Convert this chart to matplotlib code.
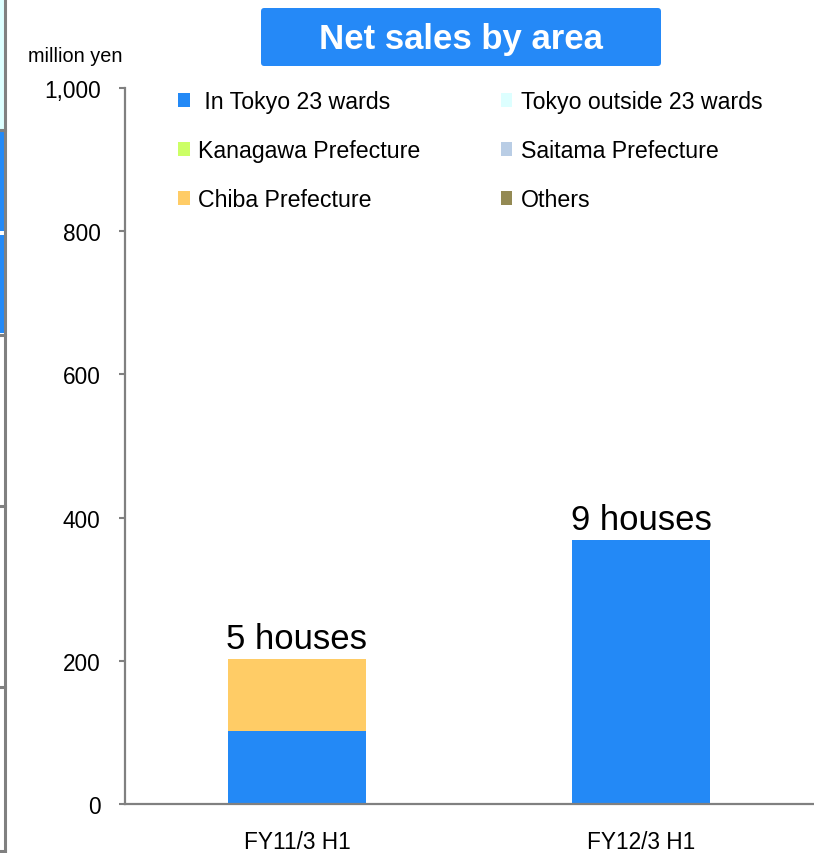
import matplotlib
matplotlib.use("Agg")
import matplotlib.pyplot as plt
from matplotlib.patches import FancyBboxPatch, Rectangle
from matplotlib.lines import Line2D

plt.rcParams['font.family'] = ['Liberation Sans', 'DejaVu Sans']

# data (million yen)
periods = ["FY11/3 H1", "FY12/3 H1"]
areas = [" In Tokyo 23 wards", "Tokyo outside 23 wards", "Kanagawa Prefecture",
         "Saitama Prefecture", "Chiba Prefecture", "Others"]
area_colors = ["#2389F6", "#DDFFFF", "#CCFF66", "#B9CDE5", "#FFCC66", "#948A54"]
sales = {
    " In Tokyo 23 wards":     [102, 369],
    "Tokyo outside 23 wards": [0, 0],
    "Kanagawa Prefecture":    [0, 0],
    "Saitama Prefecture":     [0, 0],
    "Chiba Prefecture":       [101, 0],
    "Others":                 [0, 0],
}
houses = [5, 9]

W, H = 814, 854
fig = plt.figure(figsize=(W / 100, H / 100), dpi=100)
gray = "#808080"


def fx(px):
    return px / W


def fy(py):
    return 1 - py / H


# edge of the neighbouring panel on the left
fig.patches.append(Rectangle((0, fy(131)), fx(5), fy(0) - fy(131), transform=fig.transFigure,
                             facecolor="#DDFFFF", edgecolor="none"))
fig.patches.append(Rectangle((0, fy(232)), fx(5), fy(133) - fy(232), transform=fig.transFigure,
                             facecolor="#2389F6", edgecolor="none"))
fig.patches.append(Rectangle((0, fy(334)), fx(5), fy(236) - fy(334), transform=fig.transFigure,
                             facecolor="#2389F6", edgecolor="none"))
fig.lines.append(Line2D([fx(5), fx(5)], [fy(0), fy(852)], transform=fig.transFigure,
                        color=gray, lw=2.2))
for yy in [131, 336, 507, 688, 852]:
    fig.lines.append(Line2D([0, fx(5)], [fy(yy), fy(yy)], transform=fig.transFigure,
                            color=gray, lw=2.2))

ax = fig.add_axes([fx(125), fy(805), fx(813) - fx(125), fy(89) - fy(805)])

x = range(len(periods))
bottom = [0] * len(periods)
handles = []
for name, color in zip(areas, area_colors):
    vals = sales[name]
    bars = ax.bar(x, vals, width=0.4, bottom=bottom, color=color, edgecolor="none",
                  label=name)
    handles.append(bars)
    bottom = [b + v for b, v in zip(bottom, vals)]

for i, (tot, n) in enumerate(zip(bottom, houses)):
    ax.annotate(f"{n} houses", (i, tot), xytext=(0, 8), textcoords="offset points",
                ha="center", va="baseline", fontsize=25)

ax.set_xlim(-0.5, 1.5)
ax.set_ylim(0, 1000)
ax.set_yticks([0, 200, 400, 600, 800, 1000])
ax.set_yticklabels(["0", "200", "400", "600", "800", "1,000"])
ax.set_xticks(list(x))
ax.set_xticklabels(periods)
ax.tick_params(axis="y", direction="out", length=4.5, width=1.5, color=gray,
               labelsize=16.3, pad=13)
ax.tick_params(axis="x", length=0, labelsize=16.3, pad=19)
for s in ["top", "right"]:
    ax.spines[s].set_visible(False)
for s in ["left", "bottom"]:
    ax.spines[s].set_color(gray)
    ax.spines[s].set_linewidth(1.6)

# legend laid out row by row (matplotlib fills columns first)
order = [0, 2, 4, 1, 3, 5]
leg = ax.legend([handles[i] for i in order], [areas[i] for i in order], ncol=2,
                loc="upper left", bbox_to_anchor=(0.047, 1.026), frameon=False,
                fontsize=16.7, handlelength=0.5, handleheight=0.5,
                handletextpad=0.35, columnspacing=3.48, labelspacing=1.12)

fig.text(fx(123), fy(57), "million yen", ha="right", va="center", fontsize=14.3)

# title banner
fig.patches.append(FancyBboxPatch((fx(261), fy(67)), fx(661) - fx(261), fy(9) - fy(67),
                                  boxstyle="round,pad=0,rounding_size=0.004",
                                  transform=fig.transFigure, facecolor="#2589F7",
                                  edgecolor="none"))
fig.text(fx(461), fy(39), "Net sales by area", ha="center", va="center",
         fontsize=25, fontweight="bold", color="white")

fig.savefig("out.png", dpi=100)
